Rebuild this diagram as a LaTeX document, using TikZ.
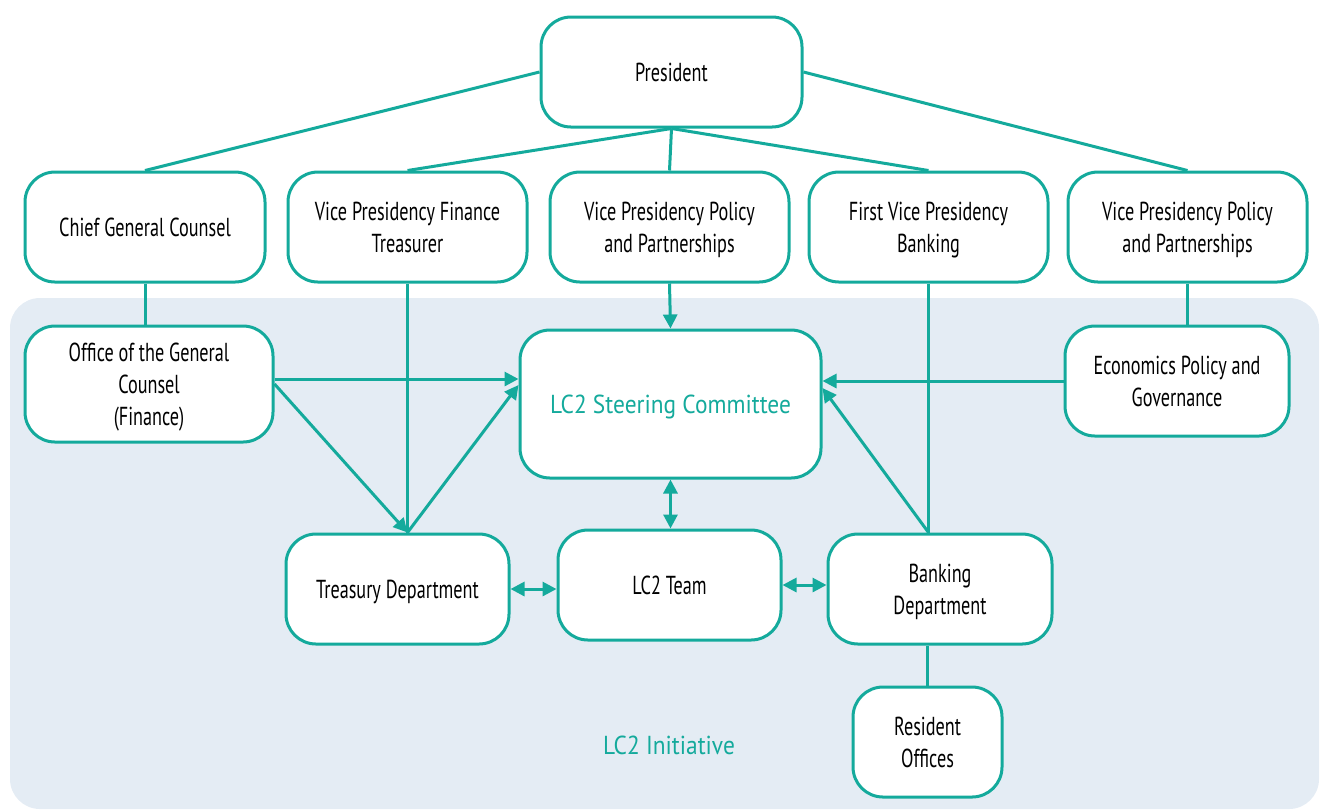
\documentclass[tikz,border=0pt]{standalone}
\usepackage{fontspec}
\setmainfont{PT Sans}[FakeStretch=0.70]
\newfontfamily\widefont{PT Sans}[FakeStretch=0.9]
\usetikzlibrary{arrows.meta}
\definecolor{tealc}{HTML}{14AA9C}
\definecolor{bgblue}{HTML}{E4ECF4}
\tikzset{
  box/.style={draw=tealc, line width=1.5pt, fill=white, rounded corners=15pt,
    align=center, inner sep=0pt, font=\fontsize{13}{16}\selectfont, text=black,
    text height=13pt, text depth=4pt},
  two/.style={text height=29pt},
  three/.style={text height=45pt},
  conn/.style={draw=tealc, line width=1.5pt},
  arr/.style={conn, -{Triangle[length=7pt,width=7pt]}},
  darr/.style={conn, {Triangle[length=7pt,width=7pt]}-{Triangle[length=7pt,width=7pt]}},
}
\begin{document}
\begin{tikzpicture}[x=0.5pt,y=-0.5pt]
\useasboundingbox (0,0) rectangle (1320,811);
\fill[bgblue, rounded corners=15pt] (10,298) rectangle (1319,809);
% top
\node[box, minimum width=130.5pt, minimum height=55pt] (pres) at (671.5,72) {President};
\node[box, minimum width=120pt, minimum height=55pt] (cgc) at (145,227) {Chief General Counsel};
\node[box, two, minimum width=119.5pt, minimum height=55pt] (vpf) at (407.5,227) {Vice Presidency Finance\\Treasurer};
\node[box, two, minimum width=119.5pt, minimum height=55pt] (vpp) at (669.5,227) {Vice Presidency Policy\\and Partnerships};
\node[box, two, minimum width=119.5pt, minimum height=55pt] (fvp) at (928.5,227) {First Vice Presidency\\Banking};
\node[box, two, minimum width=119.5pt, minimum height=55pt] (vpr) at (1187.5,227) {Vice Presidency Policy\\and Partnerships};
% middle
\node[box, three, minimum width=124pt, minimum height=58pt] (ogc) at (149,384) {Office of the General\\Counsel\\(Finance)};
\node[box, minimum width=150.5pt, minimum height=74pt, text=tealc, font=\widefont\fontsize{13}{16}\selectfont] (sc) at (670.5,404) {LC2 Steering Committee};
\node[box, two, minimum width=112pt, minimum height=55pt] (eco) at (1177,381) {Economics Policy and\\Governance};
% lower
\node[box, minimum width=111.5pt, minimum height=55pt] (tre) at (397.5,589) {Treasury Department};
\node[box, minimum width=111.5pt, minimum height=55pt] (team) at (669.5,585) {LC2 Team};
\node[box, two, minimum width=112pt, minimum height=55pt] (bank) at (940,589) {Banking\\Department};
\node[box, two, minimum width=74.5pt, minimum height=55pt] (res) at (927.5,742) {Resident\\Offices};
\node[text=tealc, font=\widefont\fontsize{13}{16}\selectfont] (ini) at (669,745) {LC2 Initiative};
% junctions
\coordinate (tj) at (vpf.south |- tre.north);
\coordinate (bj) at (fvp.south |- bank.north);
% president lines
\draw[conn] (pres.west) -- (cgc.north);
\draw[conn] (pres.east) -- (vpr.north);
\draw[conn] (pres.south) -- (vpf.north);
\draw[conn] (pres.south) -- (vpp.north);
\draw[conn] (pres.south) -- (fvp.north);
% vertical links
\draw[conn] (cgc.south) -- (cgc.south |- ogc.north);
\draw[conn] (vpr.south) -- (vpr.south |- eco.north);
\draw[conn] (vpf.south) -- (tj);
\draw[conn] (fvp.south) -- (bj);
\draw[conn] (res.north |- bank.south) -- (res.north);
% arrows
\draw[arr] (vpp.south) -- (sc.north);
\draw[arr] ([yshift=2.5pt]ogc.east) -- ([yshift=2.5pt]ogc.east -| sc.west);
\draw[arr] (ogc.east) -- (tj);
\draw[arr] (tj) -- ([yshift=9.5pt]sc.west);
\draw[arr] (eco.west) -- (eco.west -| sc.east);
\draw[arr] (bj) -- ([yshift=8pt]sc.east);
\draw[darr] (sc.south) -- (sc.south |- team.north);
\draw[darr] (tre.east) -- (tre.east -| team.west);
\draw[darr] (team.east) -- (team.east -| bank.west);
\end{tikzpicture}
\end{document}
